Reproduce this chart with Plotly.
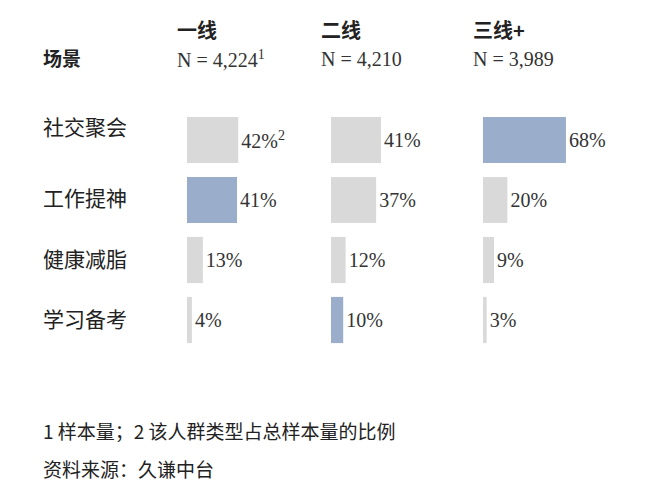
import plotly.graph_objects as go

scenes = ["社交聚会", "工作提神", "健康减脂", "学习备考"]
groups = ["一线", "二线", "三线+"]
sample_n = ["N = 4,224<sup>1</sup>", "N = 4,210", "N = 3,989"]
values = [
    [42, 41, 13, 4],
    [41, 37, 12, 10],
    [68, 20, 9, 3],
]
highlight = [1, 3, 0]   # index of the blue bar in each column

GRAY = "#d9d9d9"
BLUE = "#9aaecb"
SERIF = "Liberation Serif, Times New Roman, serif"
CJK = "Noto Sans CJK SC"

W, H = 651, 500
col_left = [179, 323, 475]
col_w = 122  # px for 100%

fig = go.Figure()

for i in range(3):
    colors = [BLUE if j == highlight[i] else GRAY for j in range(4)]
    labels = [f"{v}%" for v in values[i]]
    if i == 0:
        labels[0] = "42%<sup>2</sup>"
    fig.add_trace(go.Bar(
        x=values[i], y=scenes, orientation="h",
        marker=dict(color=colors, line_width=0), width=0.77,
        text=labels, textposition="outside", cliponaxis=False,
        textfont=dict(family=SERIF, size=20, color="#333"),
        xaxis="x" if i == 0 else f"x{i+1}", yaxis="y",
        showlegend=False, hoverinfo="skip",
    ))

layout = dict(
    width=W, height=H, margin=dict(l=0, r=0, t=0, b=0),
    plot_bgcolor="white", paper_bgcolor="white", bargap=0.2,
    yaxis=dict(domain=[1 - 342 / H, 1 - 102 / H], autorange="reversed",
               showticklabels=False, showgrid=False, zeroline=False,
               anchor="x"),
)
for i in range(3):
    key = "xaxis" if i == 0 else f"xaxis{i+1}"
    x0 = col_left[i] / W
    layout[key] = dict(domain=[x0, x0 + col_w / W], range=[0, 100],
                       visible=False, anchor="y")
fig.update_layout(**layout)


def note(text, x, y, font):
    fig.add_annotation(x=x / W, y=1 - y / H, xref="paper", yref="paper",
                       text=text, showarrow=False, xanchor="left", yanchor="middle",
                       font=font)


row_y = [118, 189, 250, 310]
for j, s in enumerate(scenes):
    note(s, 33, row_y[j], dict(family=CJK, size=21, color="#222"))

note("<b>场景</b>", 33, 50, dict(family=CJK, size=19, color="#222"))
for i in range(3):
    note(f"<b>{groups[i]}</b>", col_left[i] - 12, 21, dict(family=CJK, size=20, color="#222"))
    note(sample_n[i], col_left[i] - 12, 51, dict(family=SERIF, size=20, color="#333"))

note("1 样本量；2 该人群类型占总样本量的比例", 33, 422, dict(family=CJK, size=19, color="#222"))
note("资料来源：久谦中台", 33, 460, dict(family=CJK, size=19, color="#222"))

fig.write_html("out.html")
